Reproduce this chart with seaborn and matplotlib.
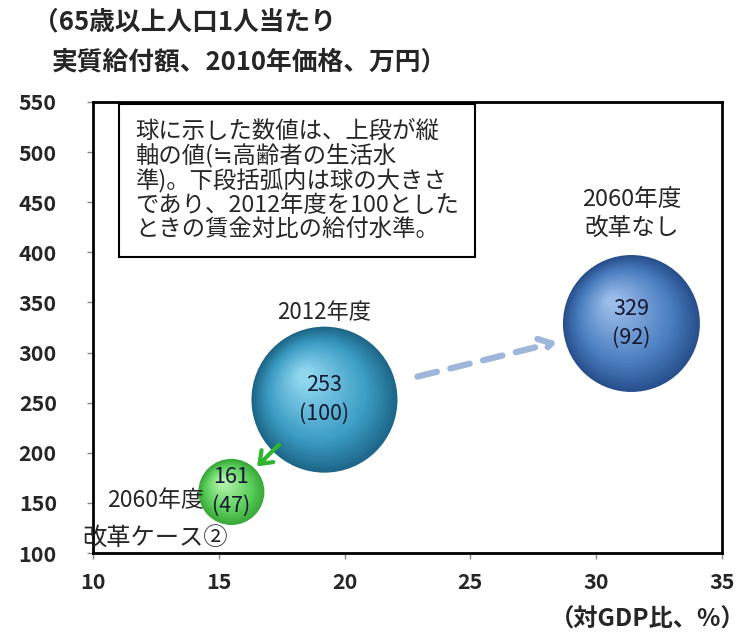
import numpy as np
import pandas as pd
import seaborn as sns
import matplotlib
matplotlib.use("Agg")
from matplotlib import pyplot as plt
from matplotlib.colors import to_rgb
from matplotlib.transforms import ScaledTranslation

# data
cases = ["2012年度", "2060年度改革なし", "2060年度改革ケース②"]
gdp_ratio = [19.2, 31.4, 15.5]          # 対GDP比 (%)
benefit = [253, 329, 161]               # 実質給付額 (万円)
wage_level = [100, 92, 47]              # 賃金対比の給付水準 (2012=100)

df = pd.DataFrame({"case": cases, "gdp": gdp_ratio, "benefit": benefit, "level": wage_level})

# sphere colours: edge, mid, highlight
sphere_cols = {
    "2012年度": ("#1d6688", "#3b9cc4", "#8fd6ef"),
    "2060年度改革なし": ("#284f8c", "#4a7ec0", "#9abbe8"),
    "2060年度改革ケース②": ("#38a838", "#5ccf5c", "#b2f2aa"),
}

sns.set_style("white")
plt.rcParams["font.family"] = ["Noto Sans CJK JP", "DejaVu Sans"]

fig = plt.figure(figsize=(7.47, 6.35), dpi=100)
ax = fig.add_axes([93 / 747, 1 - 553 / 635, 629 / 747, 451 / 635])

sns.scatterplot(
    data=df, x="gdp", y="benefit", size="level", hue="case",
    palette={k: v[0] for k, v in sphere_cols.items()},
    sizes=(2257, 11050), size_norm=(47, 100),
    linewidth=0, legend=False, ax=ax, zorder=2,
)

# fake 3D shading: stacked discs drifting to the upper left
pts = ax.collections[0]
sizes = pts.get_sizes()
n = 40
for i, row in df.iterrows():
    edge, mid, light = (np.array(to_rgb(c)) for c in sphere_cols[row["case"]])
    s = sizes[i]
    r = np.sqrt(s) / 2  # radius in points
    for k in range(1, n):
        t = k / (n - 1)
        f = 1 - 0.9 * t
        if t < 0.35:
            col = edge + (mid - edge) * (t / 0.35)
        else:
            col = mid + (light - mid) * ((t - 0.35) / 0.65)
        off = ScaledTranslation(-0.28 * r * t / 72, 0.32 * r * t / 72, fig.dpi_scale_trans)
        ax.scatter([row["gdp"]], [row["benefit"]], s=s * f ** 2, color=col,
                   linewidth=0, zorder=2 + t, transform=ax.transData + off)

# values inside the spheres
for i, row in df.iterrows():
    ax.text(row["gdp"], row["benefit"], f"{row['benefit']}\n({row['level']})",
            ha="center", va="center", fontsize=15.5, color="#141830",
            linespacing=1.4, zorder=10)

# case labels
ax.annotate("2012年度", (gdp_ratio[0], benefit[0]), xytext=(0, 63), textcoords="offset points",
            ha="center", va="center", fontsize=16, zorder=10)
ax.annotate("2060年度\n改革なし", (gdp_ratio[1], benefit[1]), xytext=(0, 79), textcoords="offset points",
            ha="center", va="center", fontsize=17, linespacing=1.3, zorder=10)
ax.annotate("2060年度", (gdp_ratio[2], benefit[2]), xytext=(-20, -6), textcoords="offset points",
            ha="right", va="center", fontsize=16.5, zorder=10)
ax.annotate("改革ケース②", (gdp_ratio[2], benefit[2]), xytext=(-55, -34), textcoords="offset points",
            ha="center", va="center", fontsize=17.5, zorder=10, annotation_clip=False)

# arrows between spheres
ax.annotate("", xy=(gdp_ratio[1], benefit[1]), xytext=(gdp_ratio[0], benefit[0]),
            arrowprops=dict(arrowstyle="->,head_length=0.9,head_width=0.55", color="#9db6da",
                            lw=4.5, linestyle=(0, (3.2, 2.2)), shrinkA=69, shrinkB=55),
            zorder=9)
ax.annotate("", xy=(gdp_ratio[2], benefit[2]), xytext=(gdp_ratio[0], benefit[0]),
            arrowprops=dict(arrowstyle="->,head_length=0.8,head_width=0.6", color="#2fb52f",
                            lw=3, shrinkA=46, shrinkB=26),
            zorder=11)

# note box
note = ("球に示した数値は、上段が縦\n軸の値(≒高齢者の生活水\n準)。下段括弧内は球の大きさ\n"
        "であり、2012年度を100とした\nときの賃金対比の給付水準。")
ax.text(0.067, 0.96, note, transform=ax.transAxes, ha="left", va="top", fontsize=16.8,
        linespacing=1.04, zorder=12,
        bbox=dict(boxstyle="square,pad=0.7", facecolor="white", edgecolor="black", lw=1.5))

ax.set_xlim(10, 35)
ax.set_ylim(100, 550)
ax.set_xticks(range(10, 36, 5))
ax.set_yticks(range(100, 551, 50))
ax.set_xlabel("")
ax.set_ylabel("")
for sp in ax.spines.values():
    sp.set_visible(True)
    sp.set_color("black")
    sp.set_linewidth(2)
ax.tick_params(axis="both", direction="out", length=4, width=1, color="#888888",
               labelsize=15.5, bottom=True, left=True)
ax.tick_params(axis="y", pad=22)
ax.tick_params(axis="x", pad=10)
for lab in ax.get_xticklabels() + ax.get_yticklabels():
    lab.set_fontweight("bold")

fig.text(33 / 747, 1 - 22 / 635, "（65歳以上人口1人当たり", ha="left", va="center",
         fontsize=18.5, fontweight="bold")
fig.text(52 / 747, 1 - 62 / 635, "実質給付額、2010年価格、万円）", ha="left", va="center",
         fontsize=18.5, fontweight="bold")
fig.text(746 / 747, 1 - 620 / 635, "（対GDP比、%）", ha="right", va="center",
         fontsize=17.5, fontweight="bold")

fig.savefig("out.png", dpi=100)
